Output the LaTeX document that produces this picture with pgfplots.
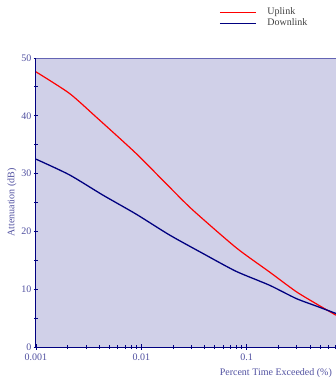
\documentclass[border=0pt]{standalone}
\usepackage{fontspec}
\setmainfont{Liberation Serif}
\usepackage{pgfplots}
\pgfplotsset{compat=1.18}
\definecolor{bg}{RGB}{208,208,232}
\definecolor{navy}{RGB}{0,0,128}
\definecolor{lbl}{RGB}{80,80,160}
\definecolor{topl}{RGB}{100,100,180}
\begin{document}
\begin{tikzpicture}
\path[use as bounding box] (0,0) rectangle (336bp,381bp);
\begin{axis}[
  at={(36bp,34bp)}, anchor=south west,
  scale only axis, width=300bp, height=289bp,
  xmode=log, xmin=0.001, xmax=0.706, ymin=0, ymax=50,
  axis x line=bottom, axis y line=left,
  axis line style={-, navy, line width=1pt},
  axis background/.style={fill=bg},
  xtick={0.001,0.01,0.1}, xticklabels={0.001,0.01,0.1},
  minor xtick={0.002,0.003,0.004,0.005,0.006,0.007,0.008,0.009,0.02,0.03,0.04,0.05,0.06,0.07,0.08,0.09,0.2,0.3,0.4,0.5,0.6,0.7},
  ytick={0,10,20,30,40,50}, minor ytick={5,15,25,35,45},
  tick align=center,
  major tick length=5bp, minor tick length=4bp,
  every tick/.style={navy, line width=0.9pt},
  /pgf/number format/assume math mode=true,
  tick label style={font=\fontsize{10bp}{11bp}\selectfont, text=lbl},
  xticklabel style={yshift=-0.5bp},
  yticklabel style={xshift=1.5bp},
  xlabel={Percent Time Exceeded (\%)},
  ylabel={Attenuation (dB)},
  every axis x label/.style={at={(axis description cs:0.998,-0.09)}, anchor=east, font=\fontsize{10bp}{11bp}\selectfont, text=lbl},
  every axis y label/.style={at={(axis description cs:-0.08,0.5)}, rotate=90, anchor=center, font=\fontsize{10bp}{11bp}\selectfont, text=lbl},
  legend style={at={(axis description cs:0.61,1.175)}, anchor=north west, draw=none, fill=none, inner sep=0pt,
    font=\fontsize{10bp}{11bp}\selectfont, row sep=1.5bp,
    nodes={inner sep=0pt, text height=7bp, text depth=2.5bp, text=black!75},
    /tikz/every odd column/.append style={column sep=11bp}},
  legend cell align=left,
  legend image code/.code={\draw[#1] (0bp,0bp) -- (36bp,0bp);},
  after end axis/.code={\draw[topl, line width=1pt] (rel axis cs:0,1) -- (rel axis cs:1,1);},
]
\addlegendimage{draw=red, line width=1.3pt}
\addlegendentry{Uplink}
\addlegendimage{draw=navy, line width=1.3pt}
\addlegendentry{Downlink}
\addplot[red, line width=1.2pt, smooth, tension=0.4, forget plot] coordinates {
(0.001,47.6) (0.00207,43.9) (0.00372,39.8) (0.00891,33.5) (0.01845,27.7) (0.0308,23.7)
(0.0793,17.2) (0.1644,13.0) (0.2944,9.6) (0.456,7.5) (0.706,5.5)};
\addplot[navy, line width=1.3pt, smooth, tension=0.4, forget plot] coordinates {
(0.001,32.5) (0.00207,29.8) (0.0043,26.3) (0.00891,23.0) (0.01845,19.4) (0.0383,16.2)
(0.0793,13.1) (0.1644,10.7) (0.2944,8.4) (0.456,7.1) (0.706,5.8)};
\end{axis}
\end{tikzpicture}
\end{document}
